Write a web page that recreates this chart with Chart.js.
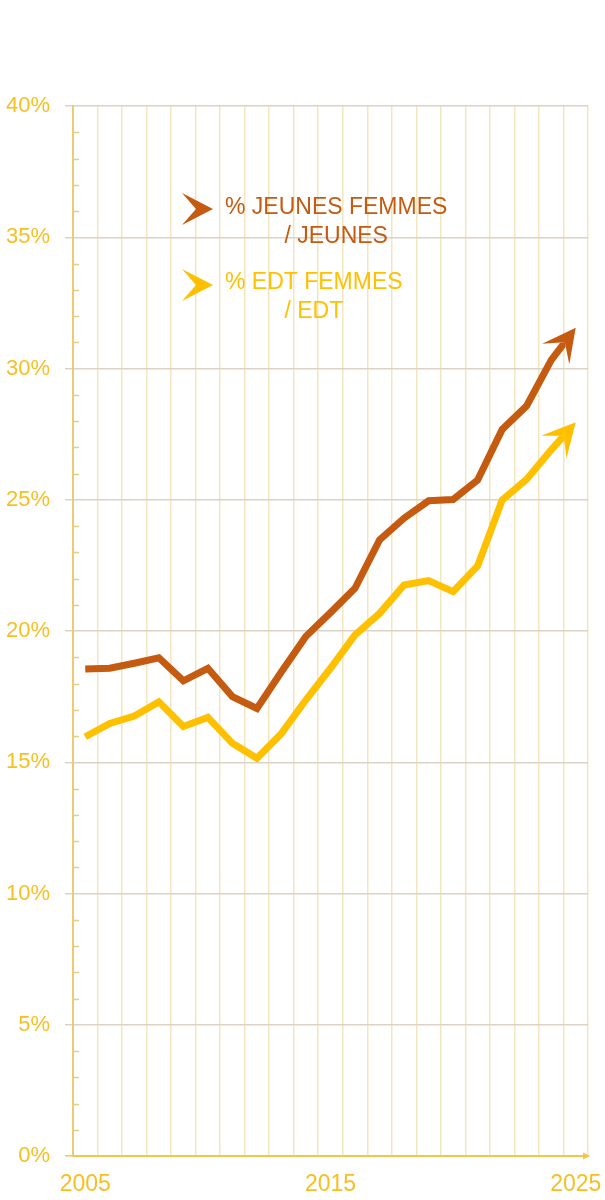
<!DOCTYPE html>
<html><head><meta charset="utf-8">
<script src="https://cdn.jsdelivr.net/npm/chart.js@4.4.0/dist/chart.umd.min.js"></script>
<style>html,body{margin:0;padding:0;background:#fff;}canvas{display:block;}</style>
</head><body>
<canvas id="c" width="605" height="1200"></canvas>
<script>
// ---- data ----
const years = ['2005','2006','2007','2008','2009','2010','2011','2012','2013','2014','2015','2016','2017','2018','2019','2020','2021','2022','2023','2024','2025'];
const jeunesFemmes = [18.55,18.58,18.77,18.98,18.10,18.58,17.50,17.05,18.45,19.80,20.70,21.63,23.47,24.30,24.96,25.01,25.75,27.68,28.58,30.32,31.55];
const edtFemmes    = [15.97,16.48,16.76,17.30,16.36,16.71,15.72,15.15,16.10,17.38,18.58,19.85,20.67,21.75,21.92,21.50,22.48,24.99,25.78,26.90,27.95];
const shownYears = ['2005','2015','2025'];
const seriesNames = ['% JEUNES FEMMES / JEUNES','% EDT FEMMES / EDT'];
const legendLines = [['% JEUNES FEMMES','/ JEUNES'],['% EDT FEMMES','/ EDT']];

const BROWN = '#C55A11', GOLD = '#FFC000', TICK = '#F7BF1F';
const FONT = '"Liberation Sans", Arial, Helvetica, sans-serif';

function arrowPts(T, u, L, W, notch, ext) {
  const n = {x: -u.y, y: u.x};
  return [
    {x: T.x + u.x*ext, y: T.y + u.y*ext},
    {x: T.x - u.x*L + n.x*W, y: T.y - u.y*L + n.y*W},
    {x: T.x - u.x*L*notch, y: T.y - u.y*L*notch},
    {x: T.x - u.x*L - n.x*W, y: T.y - u.y*L - n.y*W}
  ];
}
function polyPath(ctx, pts) {
  ctx.moveTo(pts[0].x, pts[0].y);
  for (let i = 1; i < pts.length; i++) ctx.lineTo(pts[i].x, pts[i].y);
  ctx.closePath();
}
function endArrow(chart, i) {
  const pts = chart.getDatasetMeta(i).data;
  const P = pts[pts.length-1], Q = pts[pts.length-2];
  const dx = P.x - Q.x, dy = P.y - Q.y, len = Math.hypot(dx, dy);
  return {T: {x: P.x, y: P.y}, u: {x: dx/len, y: dy/len}};
}
const AL = 33, AW = 17, NOTCH = 0.55;

const arrowPlugin = {
  id: 'arrows',
  beforeDatasetsDraw(chart) {
    const ctx = chart.ctx;
    ctx.save();
    ctx.beginPath();
    ctx.rect(0, 0, chart.width, chart.height);
    chart.data.datasets.forEach((d, i) => {
      const a = endArrow(chart, i);
      polyPath(ctx, arrowPts(a.T, a.u, AL, AW, NOTCH, 14));
    });
    ctx.clip('evenodd');
  },
  afterDatasetsDraw(chart) {
    const ctx = chart.ctx;
    ctx.restore();
    chart.data.datasets.forEach((d, i) => {
      const a = endArrow(chart, i);
      ctx.save();
      ctx.beginPath();
      polyPath(ctx, arrowPts(a.T, a.u, AL, AW, NOTCH, 0));
      ctx.fillStyle = d.borderColor;
      ctx.fill();
      ctx.restore();
    });
  }
};

const decoPlugin = {
  id: 'deco',
  afterDraw(chart) {
    const ctx = chart.ctx, y = chart.scales.y, ca = chart.chartArea;
    ctx.save();
    // minor ticks on y axis
    ctx.strokeStyle = '#E6CD86';
    ctx.lineWidth = 1.5;
    for (let v = 1; v < 40; v++) {
      if (v % 5 === 0) continue;
      const py = Math.round(y.getPixelForValue(v)) + 0.5;
      ctx.beginPath(); ctx.moveTo(ca.left, py); ctx.lineTo(ca.left + 6, py); ctx.stroke();
    }
    // x axis arrow
    ctx.fillStyle = '#F2C64A';
    ctx.beginPath();
    ctx.moveTo(ca.right + 2, ca.bottom);
    ctx.lineTo(ca.right - 5, ca.bottom - 3.5);
    ctx.lineTo(ca.right - 5, ca.bottom + 3.5);
    ctx.closePath(); ctx.fill();
    // legend
    const colors = [BROWN, GOLD];
    const rows = [[209, 208, 237], [285, 283, 312]];
    ctx.font = '23px ' + FONT;
    ctx.textBaseline = 'middle';
    ctx.textAlign = 'center';
    legendLines.forEach((lines, k) => {
      ctx.fillStyle = colors[k];
      ctx.beginPath();
      polyPath(ctx, arrowPts({x: 213, y: rows[k][0]}, {x: 1, y: 0}, 31, 16, NOTCH, 0));
      ctx.fill();
      const w = ctx.measureText(lines[0]).width;
      const cx = 225 + w/2;
      ctx.fillText(lines[0], cx, rows[k][1]);
      ctx.fillText(lines[1], cx, rows[k][2]);
    });
    ctx.restore();
  }
};

new Chart(document.getElementById('c'), {
  type: 'line',
  data: {
    labels: years,
    datasets: [
      {label: seriesNames[0], data: jeunesFemmes, borderColor: BROWN, backgroundColor: BROWN, borderWidth: 7, pointRadius: 0, tension: 0, borderJoinStyle: 'miter', borderCapStyle: 'butt'},
      {label: seriesNames[1], data: edtFemmes, borderColor: GOLD, backgroundColor: GOLD, borderWidth: 7, pointRadius: 0, tension: 0, borderJoinStyle: 'miter', borderCapStyle: 'butt'}
    ]
  },
  options: {
    responsive: false,
    devicePixelRatio: 1,
    animation: false,
    layout: {padding: {top: 106, right: 17, left: 0, bottom: 0}},
    plugins: {legend: {display: false}, tooltip: {enabled: false}},
    scales: {
      x: {
        type: 'category',
        offset: true,
        grid: {offset: true, color: '#F3E5BF', lineWidth: 1.5, drawTicks: false},
        border: {display: true, color: '#F2C64A', width: 2},
        ticks: {
          autoSkip: false, maxRotation: 0, padding: 15,
          color: TICK, font: {family: FONT, size: 23},
          callback: function(v, i) { const l = this.getLabelForValue(v); return shownYears.includes(l) ? l : ''; }
        },
        afterFit: s => { s.height = 44; s.paddingLeft = 0; s.paddingRight = 0; }
      },
      y: {
        min: 0, max: 40,
        grid: {
          color: c => c.tick && c.tick.value === 0 ? '#F2C64A' : '#DCD3C6',
          tickColor: c => c.tick && c.tick.value === 0 ? '#F2C64A' : '#DCD3C6',
          lineWidth: 1.5, tickLength: 8
        },
        border: {display: true, color: '#EACB78', width: 2},
        ticks: {stepSize: 5, padding: 15, color: TICK, font: {family: FONT, size: 22}, callback: v => v + '%'},
        afterFit: s => { s.width = 73; s.paddingTop = 0; s.paddingBottom = 0; }
      }
    }
  },
  plugins: [arrowPlugin, decoPlugin]
});
</script>
</body></html>
